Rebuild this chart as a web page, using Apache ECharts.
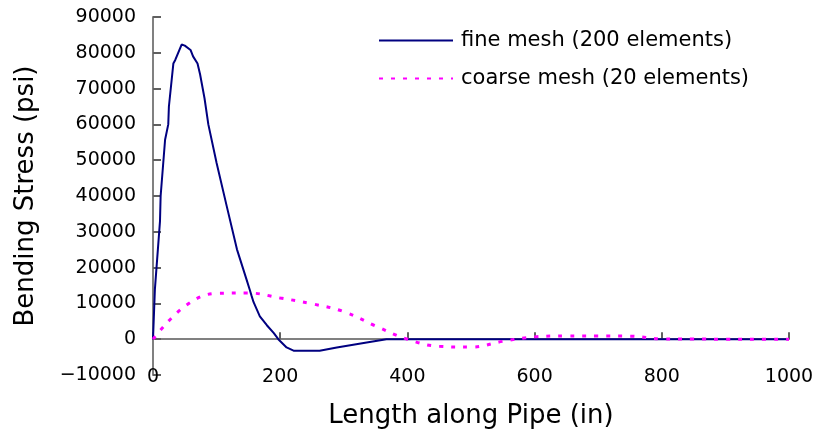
<!DOCTYPE html>
<html>
<head>
<meta charset="utf-8">
<script src="https://cdn.jsdelivr.net/npm/echarts@6/dist/echarts.min.js"></script>
<style>html,body{margin:0;padding:0;background:#fff;}#c{width:818px;height:434px;}</style>
</head>
<body>
<div id="c"></div>
<script>
const seriesNames = ['fine mesh (200 elements)', 'coarse mesh (20 elements)'];
const xTicks = [0, 200, 400, 600, 800, 1000];
const yTicks = [-10000, 0, 10000, 20000, 30000, 40000, 50000, 60000, 70000, 80000, 90000];
const fineX = [0, 3, 11, 12, 19, 24, 25, 32, 35, 45, 50, 59, 63, 70, 74, 81, 87, 100, 116, 132, 142, 147, 152, 155, 158, 163, 168, 179, 190, 197, 210, 221, 262, 289, 336, 367, 400, 600, 800, 1000];
const fineY = [0, 14000, 33000, 40000, 55700, 60000, 65000, 77000, 78000, 82300, 82000, 80800, 79000, 77000, 74000, 67300, 60000, 49200, 37100, 25100, 19500, 16700, 13900, 12100, 10400, 8400, 6400, 3900, 1700, 0, -2300, -3200, -3200, -2300, -900, 0, 0, 0, 0, 0];
const coarseX = [0, 50, 100, 150, 200, 250, 300, 350, 400, 450, 500, 550, 600, 650, 700, 750, 800, 850, 900, 950, 1000];
const coarseY = [0, 9200, 12800, 12900, 11500, 9900, 7700, 3700, 0, -2000, -2200, -600, 650, 900, 900, 850, 100, 50, 0, 0, 0];

const FONT = 'DejaVu Sans';
const chart = echarts.init(document.getElementById('c'));
const pair = (xs, ys) => xs.map((x, i) => [x, ys[i]]);
const fmt = v => v < 0 ? '\u2212' + Math.abs(v) : String(v);
chart.setOption({
  animation: false,
  backgroundColor: '#fff',
  grid: { left: 153, right: 29, top: 17, bottom: 59 },
  legend: {
    orient: 'vertical', left: 378, top: 30, padding: 0, itemWidth: 74, itemHeight: 14, itemGap: 17,
    data: seriesNames,
    itemStyle: { opacity: 0 },
    textStyle: { fontFamily: FONT, fontSize: 21, color: '#000', padding: [0, 0, 0, 3] }
  },
  xAxis: [{
    type: 'value', min: xTicks[0], max: xTicks[xTicks.length - 1], interval: 200,
    axisLine: { onZero: true, lineStyle: { color: '#808080', width: 2 } },
    axisTick: { inside: true, length: 7, lineStyle: { color: '#606060', width: 2 } },
    axisLabel: { show: false }, splitLine: { show: false }
  }, {
    type: 'value', position: 'bottom', min: xTicks[0], max: xTicks[xTicks.length - 1], interval: 200,
    axisLine: { show: false, onZero: false }, axisTick: { show: false }, splitLine: { show: false },
    axisLabel: { fontFamily: FONT, fontSize: 19, color: '#000', verticalAlign: 'middle', margin: 2, formatter: fmt },
    name: 'Length along Pipe (in)', nameLocation: 'middle', nameGap: 28,
    nameTextStyle: { fontFamily: FONT, fontSize: 26, color: '#000' }
  }],
  yAxis: {
    type: 'value', min: yTicks[0], max: yTicks[yTicks.length - 1], interval: 10000,
    axisLine: { show: true, lineStyle: { color: '#808080', width: 2 } },
    axisTick: { show: true, inside: true, length: 8, lineStyle: { color: '#606060', width: 2 } },
    axisLabel: { fontFamily: FONT, fontSize: 19, color: '#000', margin: 17, formatter: fmt },
    splitLine: { show: false },
    name: 'Bending Stress (psi)', nameLocation: 'middle', nameGap: 114,
    nameTextStyle: { fontFamily: FONT, fontSize: 26, color: '#000' }
  },
  series: [{
    name: seriesNames[0], type: 'line', xAxisIndex: 0, symbol: 'none',
    data: pair(fineX, fineY),
    lineStyle: { color: '#000080', width: 2 }, itemStyle: { color: '#000080' }
  }, {
    name: seriesNames[1], type: 'line', xAxisIndex: 0, symbol: 'none', smooth: 0.4,
    data: pair(coarseX, coarseY),
    lineStyle: { color: '#ff00ff', width: 3, type: [4, 8] }, itemStyle: { color: '#ff00ff' }
  }]
});
</script>
</body>
</html>
